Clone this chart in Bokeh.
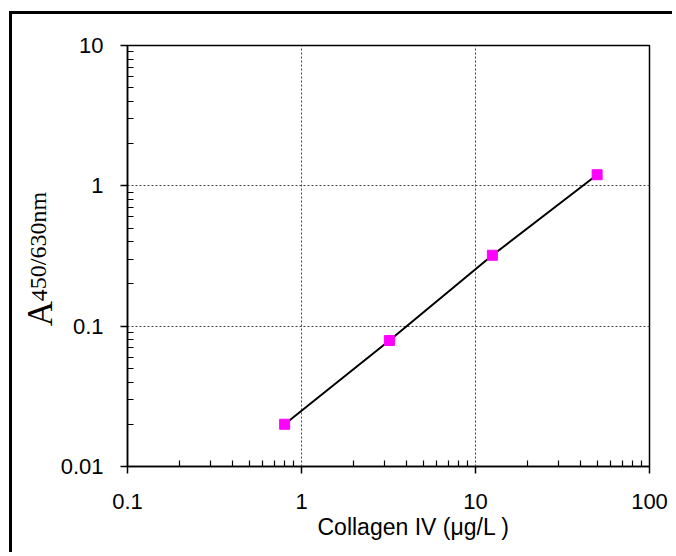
from bokeh.plotting import figure
from bokeh.models import FixedTicker, Title, Label, Range1d
from bokeh.layouts import row
from bokeh.embed import file_html
from bokeh.resources import INLINE

# Data
conc = [0.8, 3.2, 12.5, 50.0]          # Collagen IV (µg/L)
absorb = [0.02, 0.079, 0.32, 1.2]      # A450/630nm

x_major = [0.1, 1, 10, 100]
y_major = [0.01, 0.1, 1, 10]
x_labels = {0.1: "0.1", 1: "1", 10: "10", 100: "100"}
y_labels = {0.01: "0.01", 0.1: "0.1", 1: "1", 10: "10"}

def minors(majors):
    out = []
    for m in majors[:-1]:
        for k in range(2, 10):
            out.append(m * k)
    return out

H = 538
LW = 45

# --- main chart ---
p = figure(width=615, height=H, x_axis_type="log", y_axis_type="log",
           x_range=(0.1, 100), y_range=(0.01, 10),
           output_backend="svg", toolbar_location=None,
           min_border_left=70, min_border_right=23,
           min_border_top=31, min_border_bottom=86)

# --- narrow strip holding the y-axis title (A with subscript) ---
t = figure(width=LW, height=H, x_range=Range1d(0, LW), y_range=p.y_range,
           y_axis_type="log",
           output_backend="svg", toolbar_location=None,
           x_axis_location=None, y_axis_location=None,
           min_border=0, min_border_left=0, min_border_right=0,
           min_border_top=31, min_border_bottom=86)
t.outline_line_color = None
t.background_fill_color = "white"
t.border_fill_color = "white"
t.xgrid.visible = False
t.ygrid.visible = False
sub_shift = 10 ** (25 / 140.3)   # subscript starts ~25 px above "A"
t.add_layout(Label(x=27.5, y=0.1, text="A", angle=1.5708,
                   text_align="left", text_baseline="alphabetic",
                   text_font="Liberation Serif", text_font_size="35px",
                   text_color="black"))
t.add_layout(Label(x=26.0, y=0.1 * sub_shift, text="450/630nm", angle=1.5708,
                   text_align="left", text_baseline="alphabetic",
                   text_font="Liberation Serif", text_font_size="24px",
                   text_color="black"))

p.background_fill_color = "white"
p.border_fill_color = "white"
p.outline_line_color = "black"
p.outline_line_width = 1.5

p.xaxis.ticker = FixedTicker(ticks=x_major, minor_ticks=minors(x_major))
p.yaxis.ticker = FixedTicker(ticks=y_major, minor_ticks=minors(y_major))
p.xaxis.major_label_overrides = x_labels
p.yaxis.major_label_overrides = y_labels

for ax in (p.xaxis, p.yaxis):
    ax.axis_line_color = "black"
    ax.axis_line_width = 1.5
    ax.major_tick_line_color = "black"
    ax.major_tick_line_width = 1.5
    ax.major_tick_out = 7
    ax.major_tick_in = 0
    ax.minor_tick_line_color = "black"
    ax.minor_tick_line_width = 1.2
    ax.minor_tick_in = 6
    ax.minor_tick_out = 0
    ax.major_label_text_font = "Liberation Sans"
    ax.major_label_text_font_size = "22px"
    ax.major_label_text_color = "black"

p.xaxis.major_label_standoff = 20
p.yaxis.major_label_standoff = 17

for g in (p.xgrid, p.ygrid):
    g.grid_line_color = "#444444"
    g.grid_line_dash = "2 2"
    g.grid_line_width = 1
    g.minor_grid_line_color = None

p.line(conc, absorb, line_color="black", line_width=2)
p.scatter(conc, absorb, marker="square", size=10,
          fill_color="#FF00FF", line_color="#FF00FF")

# X axis title
p.add_layout(Title(text="Collagen IV (μg/L )", align="left", offset=190,
                   text_font="Liberation Sans", text_font_size="23px",
                   text_font_style="normal", text_color="black", standoff=0), "below")

layout = row(t, p, spacing=0)
layout.margin = (11, 0, 0, 9)
layout.styles = {"border-top": "3px solid black", "border-left": "3px solid black"}

open("out.html", "w").write(file_html(layout, INLINE))
